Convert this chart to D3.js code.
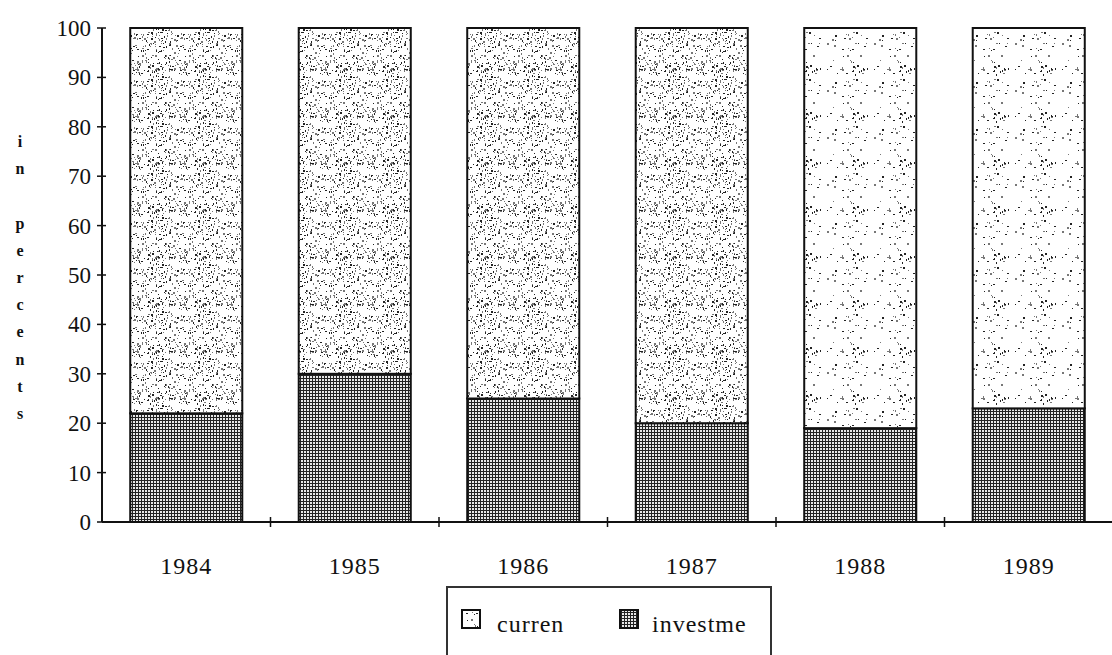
<!DOCTYPE html>
<html>
<head>
<meta charset="utf-8">
<script src="https://cdn.jsdelivr.net/npm/d3@7"></script>
<style>
  body { margin: 0; background: #fff; }
  svg { display: block; }
  text { font-family: "Liberation Serif", "DejaVu Serif", serif; fill: #111; }
</style>
</head>
<body>
<svg id="chart" width="1112" height="655"></svg>
<script>
var years = ["1984", "1985", "1986", "1987", "1988", "1989"];
var investme = [22, 30, 25, 20, 19, 23];
var curren = [78, 70, 75, 80, 81, 77];
var yTicks = [0, 10, 20, 30, 40, 50, 60, 70, 80, 90, 100];
var seriesKeys = ["investme", "curren"];
var legendLabels = ["curren", "investme"];
var yLabel = "in percents";

var svg = d3.select("svg#chart"),
    width = +svg.attr("width"),
    height = +svg.attr("height");

var plotLeft = 102, plotRight = 1113, plotTop = 28, plotBottom = 522;

var x = d3.scaleBand().domain(years).range([plotLeft, plotRight])
    .paddingInner(0.335).paddingOuter(0.1675);
var y = d3.scaleLinear().domain([0, 100]).range([plotBottom, plotTop]);

var rows = years.map(function(d, i) {
  return {year: d, investme: investme[i], curren: curren[i]};
});
var stack = d3.stack().keys(seriesKeys)(rows);

// textures: stipple for current, fine grid for investment
var defs = svg.append("defs");

function hash(n) {
  var s = Math.sin(n * 12.9898) * 43758.5453;
  return s - Math.floor(s);
}

function stipple(id, count, tile) {
  var p = defs.append("pattern").attr("id", id)
      .attr("patternUnits", "userSpaceOnUse")
      .attr("width", tile).attr("height", tile);
  p.append("rect").attr("width", tile).attr("height", tile).attr("fill", "#fff");
  for (var i = 0; i < count; i++) {
    var w = hash(i * 3 + 7) < 0.3 ? 2 : 1;
    p.append("rect")
      .attr("x", Math.floor(hash(i * 3 + 1) * tile))
      .attr("y", Math.floor(hash(i * 3 + 2) * tile))
      .attr("width", w).attr("height", hash(i * 5 + 3) < 0.4 ? 2 : 1)
      .attr("fill", hash(i * 7 + 5) < 0.5 ? "#222" : "#777");
  }
}
stipple("stipDense", 210, 47);
stipple("stipLight", 50, 47);

var grid = defs.append("pattern").attr("id", "grid")
    .attr("patternUnits", "userSpaceOnUse")
    .attr("width", 3).attr("height", 3);
grid.append("rect").attr("width", 3).attr("height", 3).attr("fill", "#e8e8e8");
grid.append("rect").attr("width", 3).attr("height", 1).attr("fill", "#222");
grid.append("rect").attr("width", 1).attr("height", 3).attr("fill", "#222");

function fillFor(key, year) {
  if (key === "investme") return "url(#grid)";
  return (year === "1988" || year === "1989") ? "url(#stipLight)" : "url(#stipDense)";
}

// bars
svg.append("g").selectAll("g")
  .data(stack)
  .enter().append("g")
  .selectAll("rect")
  .data(function(s) { return s.map(function(d) { return {key: s.key, d: d}; }); })
  .enter().append("rect")
    .attr("x", function(e) { return x(e.d.data.year); })
    .attr("y", function(e) { return y(e.d[1]); })
    .attr("width", x.bandwidth())
    .attr("height", function(e) { return y(e.d[0]) - y(e.d[1]); })
    .attr("fill", function(e) { return fillFor(e.key, e.d.data.year); })
    .attr("stroke", "#111")
    .attr("stroke-width", 2);

// y axis
var yAxis = svg.append("g");
yAxis.append("line")
  .attr("x1", plotLeft).attr("x2", plotLeft)
  .attr("y1", y(100)).attr("y2", y(0))
  .attr("stroke", "#111").attr("stroke-width", 2);
yAxis.selectAll(".tick").data(yTicks).enter().append("line")
  .attr("x1", plotLeft - 5).attr("x2", plotLeft + 4)
  .attr("y1", function(d) { return y(d); })
  .attr("y2", function(d) { return y(d); })
  .attr("stroke", "#111").attr("stroke-width", 1.5);
yAxis.selectAll("text").data(yTicks).enter().append("text")
  .attr("x", plotLeft - 11)
  .attr("y", function(d) { return y(d); })
  .attr("dy", "0.35em")
  .attr("text-anchor", "end")
  .style("font-size", "23px")
  .text(function(d) { return d; });

// x axis
var xAxis = svg.append("g");
xAxis.append("line")
  .attr("x1", plotLeft).attr("x2", width)
  .attr("y1", plotBottom).attr("y2", plotBottom)
  .attr("stroke", "#111").attr("stroke-width", 2);
var step = x.step();
xAxis.selectAll(".tick").data(years.slice(1).concat(["end"])).enter().append("line")
  .attr("x1", function(d, i) { return plotLeft + step * (i + 1); })
  .attr("x2", function(d, i) { return plotLeft + step * (i + 1); })
  .attr("y1", plotBottom - 5).attr("y2", plotBottom + 5)
  .attr("stroke", "#111").attr("stroke-width", 1.5);
xAxis.selectAll("text").data(years).enter().append("text")
  .attr("x", function(d) { return x(d) + x.bandwidth() / 2; })
  .attr("y", 574)
  .attr("text-anchor", "middle")
  .style("font-size", "24px")
  .style("letter-spacing", "1px")
  .text(function(d) { return d; });

// vertical y label, one letter per line
var letters = yLabel.split("");
svg.append("g").selectAll("text").data(letters).enter().append("text")
  .attr("x", 20)
  .attr("y", function(d, i) { return 147 + i * 27.2; })
  .attr("text-anchor", "middle")
  .style("font-size", "16px")
  .style("font-weight", "bold")
  .text(function(d) { return d; });

// legend
var legend = svg.append("g");
legend.append("rect")
  .attr("x", 447).attr("y", 587).attr("width", 324).attr("height", 80)
  .attr("fill", "#fff").attr("stroke", "#333").attr("stroke-width", 2);
var legendItems = [
  {label: legendLabels[0], fill: "url(#stipLight)", x: 462, tx: 497},
  {label: legendLabels[1], fill: "url(#grid)", x: 620, tx: 652}
];
legend.selectAll("g").data(legendItems).enter().append("g")
  .each(function(d) {
    var g = d3.select(this);
    g.append("rect").attr("x", d.x).attr("y", 610).attr("width", 18).attr("height", 18)
      .attr("fill", d.fill).attr("stroke", "#111").attr("stroke-width", 2);
    g.append("text").attr("x", d.tx).attr("y", 632)
      .style("font-size", "24px")
      .style("letter-spacing", "1px")
      .text(d.label);
  });
</script>
</body>
</html>
